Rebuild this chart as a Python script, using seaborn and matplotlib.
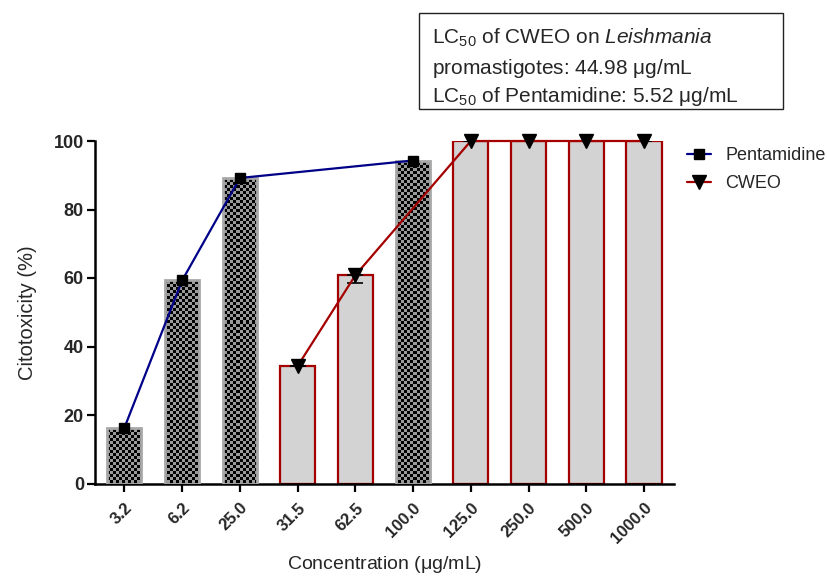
import numpy as np
import pandas as pd
import matplotlib
matplotlib.use("Agg")
import matplotlib.pyplot as plt
import seaborn as sns
from matplotlib.patches import Rectangle
from matplotlib.lines import Line2D
from matplotlib.colors import ListedColormap

# ---------------- data ----------------
categories = ["3.2", "6.2", "25.0", "31.5", "62.5", "100.0", "125.0", "250.0", "500.0", "1000.0"]
penta_conc = ["3.2", "6.2", "25.0", "100.0"]
penta_vals = [16.3, 59.3, 89.2, 94.3]
cweo_conc = ["31.5", "62.5", "125.0", "250.0", "500.0", "1000.0"]
cweo_vals = [34.3, 60.8, 100.0, 100.0, 100.0, 100.0]
cweo_err = [0.0, 2.3, 0.0, 0.0, 0.0, 0.0]
yticks = [0, 20, 40, 60, 80, 100]

sns.set_theme(style="ticks")
plt.rcParams["font.family"] = ["Liberation Sans", "DejaVu Sans"]
plt.rcParams["mathtext.fontset"] = "custom"
plt.rcParams["mathtext.rm"] = "Liberation Sans"
plt.rcParams["mathtext.it"] = "Liberation Sans:italic"
plt.rcParams["mathtext.bf"] = "Liberation Sans:bold"

fig = plt.figure(figsize=(8.27, 5.79), dpi=100)
W, H = 827, 579
ax = fig.add_axes([95 / W, 1 - 483.5 / H, (674 - 95) / W, (483.5 - 141) / H])

df_p = pd.DataFrame({"conc": penta_conc, "val": penta_vals})
df_c = pd.DataFrame({"conc": cweo_conc, "val": cweo_vals, "err": cweo_err})

red = "#A50000"
blue = "#000088"

sns.barplot(data=df_p, x="conc", y="val", order=categories, ax=ax, width=0.59,
            color="#a8a8a8", saturation=1, edgecolor="#a8a8a8", linewidth=2.0, zorder=2)
n_p = len(ax.patches)
sns.barplot(data=df_c, x="conc", y="val", order=categories, ax=ax, width=0.61,
            color="#d3d3d3", saturation=1, edgecolor=red, linewidth=1.6, zorder=2)

# checker pattern inside pentamidine bars
ncols = int((674 - 95) / 3)
nrows = int((483.5 - 141) / 3)
checker = (np.add.outer(np.arange(nrows), np.arange(ncols)) % 2).astype(float)
cmap = ListedColormap(["#000000", "#9a9a9a"])
for p in ax.patches[:n_p]:
    if p.get_height() > 0:
        im = ax.imshow(checker, cmap=cmap, extent=[0, 1, 0, 1], transform=ax.transAxes,
                       interpolation="nearest", aspect="auto", zorder=2.5)
        im.set_clip_path(p)
        p.set_facecolor("none")
        p.set_zorder(2.6)

pos = {c: i for i, c in enumerate(categories)}
xp = [pos[c] for c in penta_conc]
xc = [pos[c] for c in cweo_conc]

ax.errorbar(xc, cweo_vals, yerr=[cweo_err, [0] * len(cweo_err)], fmt="none",
            ecolor="black", elinewidth=1.2, capsize=6, capthick=1.2, zorder=3)
ax.plot(xp, penta_vals, color=blue, lw=1.6, marker="s", ms=7, mfc="black", mec="black",
        zorder=4, clip_on=False)
ax.plot(xc, cweo_vals, color=red, lw=1.6, marker="v", ms=10, mfc="black", mec="black",
        zorder=4, clip_on=False)

ax.set_xlim(-0.51, 9.52)
ax.set_ylim(0, 100)
ax.set_yticks(yticks)
ax.set_yticklabels([str(t) for t in yticks], fontsize=13, fontweight="bold")
ax.set_xticks(range(len(categories)))
ax.set_xticklabels(categories, fontsize=12, fontweight="bold", rotation=45,
                   ha="right", va="top", rotation_mode="anchor")
ax.tick_params(axis="both", direction="out", length=6, width=1.6, color="black", pad=2)
ax.tick_params(axis="x", pad=6)
for s in ["top", "right"]:
    ax.spines[s].set_visible(False)
for s in ["left", "bottom"]:
    ax.spines[s].set_linewidth(1.8)
    ax.spines[s].set_color("black")

ax.set_xlabel(r"Concentration ($\mathregular{\mu}$g/mL)", fontsize=14)
ax.set_ylabel("Citotoxicity (%)", fontsize=14.5, labelpad=12)
ax.xaxis.set_label_coords(0.5, -0.205)

handles = [Line2D([], [], color=blue, lw=1.6, marker="s", ms=7, mfc="black", mec="black"),
           Line2D([], [], color=red, lw=1.6, marker="v", ms=10, mfc="black", mec="black")]
fig.legend(handles, ["Pentamidine", "CWEO"], loc="upper left",
           bbox_to_anchor=(680 / W, 1 - 140 / H), frameon=False, fontsize=13,
           handlelength=1.3, handletextpad=0.8, labelspacing=0.6, borderaxespad=0)

# annotation box
fig.patches.append(Rectangle((419 / W, 1 - 109 / H), (783 - 419) / W, (109 - 13) / H,
                             transform=fig.transFigure, fill=False, edgecolor="#222222",
                             lw=1.0))
fig.text(432 / W, 1 - 38 / H, r"LC$_{\mathregular{50}}$ of CWEO on $\mathit{Leishmania}$",
         fontsize=15, va="center", ha="left")
fig.text(432 / W, 1 - 69 / H, r"promastigotes: 44.98 $\mathregular{\mu}$g/mL",
         fontsize=15, va="center", ha="left")
fig.text(432 / W, 1 - 96 / H, r"LC$_{\mathregular{50}}$ of Pentamidine: 5.52 $\mathregular{\mu}$g/mL",
         fontsize=15, va="center", ha="left")

fig.savefig("out.png", dpi=100)
